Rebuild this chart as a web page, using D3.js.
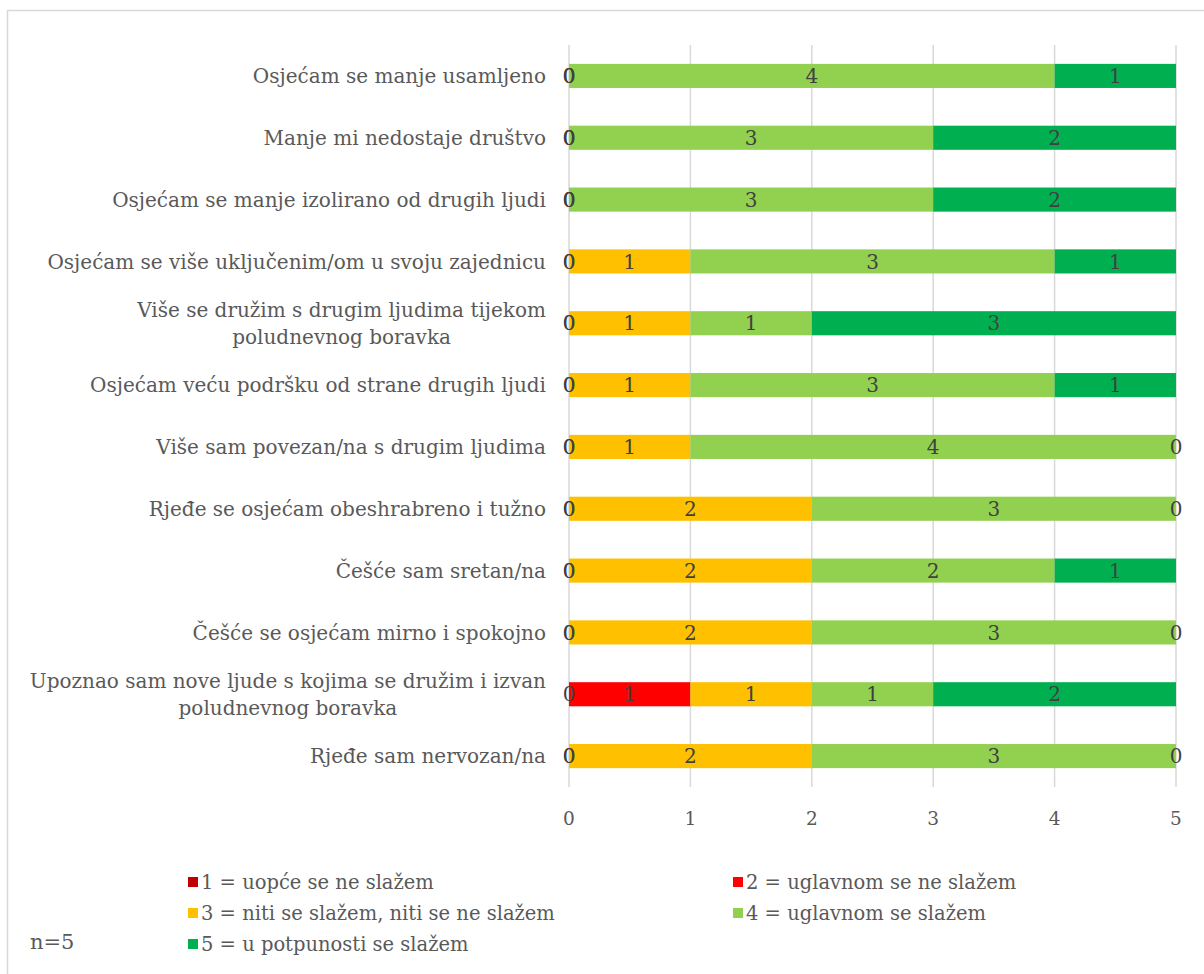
<!DOCTYPE html>
<html>
<head>
<meta charset="utf-8">
<script src="https://cdn.jsdelivr.net/npm/d3@7"></script>
<style>
  body { margin: 0; background: #fff; }
  text { font-family: "DejaVu Serif", serif; }
</style>
</head>
<body>
<div id="chart"></div>
<script>
// categories, top to bottom
const categories = [
    ["Osjećam se manje usamljeno"],
    ["Manje mi nedostaje društvo"],
    ["Osjećam se manje izolirano od drugih ljudi"],
    ["Osjećam se više uključenim/om u svoju zajednicu"],
    ["Više se družim s drugim ljudima tijekom", "poludnevnog boravka"],
    ["Osjećam veću podršku od strane drugih ljudi"],
    ["Više sam povezan/na s drugim ljudima"],
    ["Rjeđe se osjećam obeshrabreno i tužno"],
    ["Češće sam sretan/na"],
    ["Češće se osjećam mirno i spokojno"],
    ["Upoznao sam nove ljude s kojima se družim i izvan", "poludnevnog boravka"],
    ["Rjeđe sam nervozan/na"]
];

const seriesNames = [
    "1 = uopće se ne slažem",
    "2 = uglavnom se ne slažem",
    "3 = niti se slažem, niti se ne slažem",
    "4 = uglavnom se slažem",
    "5 = u potpunosti se slažem"
];
const seriesColors = ["#C00000", "#FF0000", "#FFC000", "#92D050", "#00B050"];

const s1 = [0, 0, 0, 0, 0, 0, 0, 0, 0, 0, 0, 0];
const s2 = [0, 0, 0, 0, 0, 0, 0, 0, 0, 0, 1, 0];
const s3 = [0, 0, 0, 1, 1, 1, 1, 2, 2, 2, 1, 2];
const s4 = [4, 3, 3, 3, 1, 3, 4, 3, 2, 3, 1, 3];
const s5 = [1, 2, 2, 1, 3, 1, 0, 0, 1, 0, 2, 0];
const seriesValues = [s1, s2, s3, s4, s5];

const xTicks = [0, 1, 2, 3, 4, 5];
const note = "n=5";

const width = 1204, height = 974;
const plot = {left: 569, right: 1176, top: 45, bottom: 787};

const svg = d3.select("#chart")
    .append("svg")
    .attr("width", width)
    .attr("height", height);

// outer frame (only top and left edges are visible)
svg.append("line")
    .attr("x1", 7).attr("x2", width).attr("y1", 10.5).attr("y2", 10.5)
    .attr("stroke", "#d9d9d9").attr("stroke-width", 1.5);
svg.append("line")
    .attr("x1", 7.5).attr("x2", 7.5).attr("y1", 10).attr("y2", height)
    .attr("stroke", "#d9d9d9").attr("stroke-width", 1.5);

const x = d3.scaleLinear()
    .domain([0, 5])
    .range([plot.left, plot.right]);

const y = d3.scaleBand()
    .domain(d3.range(categories.length))
    .range([plot.top, plot.bottom])
    .paddingInner(0.61)
    .paddingOuter(0.305);

// gridlines
svg.append("g")
    .selectAll("line")
    .data(xTicks)
    .join("line")
    .attr("x1", d => x(d)).attr("x2", d => x(d))
    .attr("y1", plot.top).attr("y2", plot.bottom)
    .attr("stroke", "#d9d9d9")
    .attr("stroke-width", 1.5);

// tick labels
svg.append("g")
    .selectAll("text")
    .data(xTicks)
    .join("text")
    .attr("x", d => x(d))
    .attr("y", 825)
    .attr("text-anchor", "middle")
    .attr("fill", "#595959")
    .attr("font-size", 18.5)
    .text(d => d);

// stack the series
const rows = categories.map((c, i) => {
    const r = {};
    seriesValues.forEach((s, k) => r["s" + k] = s[i]);
    return r;
});
const keys = seriesValues.map((s, k) => "s" + k);
const stacked = d3.stack().keys(keys)(rows);

const bars = svg.append("g");
stacked.forEach((layer, k) => {
    bars.append("g")
        .attr("fill", seriesColors[k])
        .selectAll("rect")
        .data(layer)
        .join("rect")
        .attr("x", d => x(d[0]))
        .attr("y", (d, i) => y(i))
        .attr("width", d => x(d[1]) - x(d[0]))
        .attr("height", y.bandwidth());
});

// value labels on top of bars
const labels = svg.append("g");
stacked.forEach((layer, k) => {
    labels.append("g")
        .selectAll("text")
        .data(layer)
        .join("text")
        .attr("x", d => x((d[0] + d[1]) / 2))
        .attr("y", (d, i) => y(i) + y.bandwidth() / 2)
        .attr("dy", "0.36em")
        .attr("text-anchor", "middle")
        .attr("fill", "#404040")
        .attr("font-size", 20)
        .text(d => d[1] - d[0]);
});

// category labels
const catLabels = svg.append("g")
    .selectAll("text")
    .data(categories)
    .join("text")
    .attr("text-anchor", "middle")
    .attr("fill", "#595959")
    .attr("font-size", 20);

catLabels.each(function(lines, i) {
    const t = d3.select(this);
    const cy = y(i) + y.bandwidth() / 2;
    const lh = 27;
    lines.forEach((ln, j) => {
        t.append("tspan")
            .attr("y", cy + (j - (lines.length - 1) / 2) * lh)
            .attr("dy", "0.36em")
            .text(ln);
    });
    // right-align the block, center lines within it
    const w = d3.max(t.selectAll("tspan").nodes(), n => n.getComputedTextLength());
    const right = plot.left - 23;
    t.selectAll("tspan").attr("x", right - w / 2);
});

// legend
const legendPos = [[188, 882], [733, 882], [188, 913], [733, 913], [188, 944]];
const legend = svg.append("g")
    .selectAll("g")
    .data(seriesNames)
    .join("g")
    .attr("transform", (d, i) => `translate(${legendPos[i][0]},${legendPos[i][1]})`);
legend.append("rect")
    .attr("x", 0).attr("y", -5)
    .attr("width", 10).attr("height", 10)
    .attr("fill", (d, i) => seriesColors[i]);
legend.append("text")
    .attr("x", 13)
    .attr("dy", "0.36em")
    .attr("fill", "#595959")
    .attr("font-size", 19.5)
    .text(d => d);

svg.append("text")
    .attr("x", 30)
    .attr("y", 941)
    .attr("dy", "0.36em")
    .attr("fill", "#595959")
    .attr("font-size", 21)
    .text(note);
</script>
</body>
</html>
